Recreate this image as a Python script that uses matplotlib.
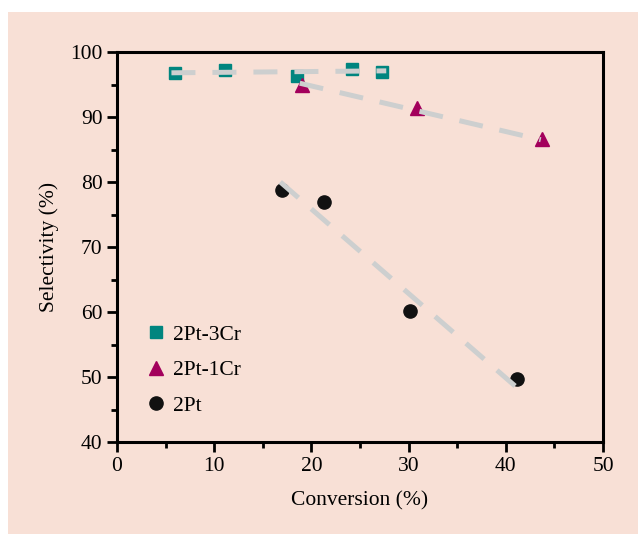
import numpy as np
import matplotlib
matplotlib.use("Agg")
from matplotlib import pyplot as plt
from matplotlib.patches import Rectangle
from matplotlib.ticker import MultipleLocator

# Data
conv_3cr = [6.0, 11.1, 18.5, 24.2, 27.3]
sel_3cr = [96.7, 97.2, 96.3, 97.4, 97.0]
conv_1cr = [19.0, 30.9, 43.7]
sel_1cr = [95.0, 91.4, 86.6]
conv_pt = [17.0, 21.3, 30.1, 41.2]
sel_pt = [78.7, 76.9, 60.1, 49.7]

# gray dashed trend lines (end points)
trend_3cr_x = [5.6, 27.7]
trend_3cr_y = [96.8, 97.1]
trend_1cr_x = [18.8, 43.6]
trend_1cr_y = [95.2, 86.5]
trend_pt_x = [16.8, 41.2]
trend_pt_y = [80.0, 48.3]

PEACH = "#f8e0d6"
TEAL = "#00857f"
MAGENTA = "#a3005c"
GRAY = "#cdcfcf"

plt.rcParams['font.family'] = ['Liberation Serif', 'DejaVu Serif']

fig = plt.figure(figsize=(6.38, 5.34), dpi=100, facecolor="white")
# peach panel behind everything
bg = Rectangle((8 / 638, 0), 1, 1 - 12 / 534, transform=fig.transFigure,
               facecolor=PEACH, edgecolor="none", zorder=-10)
fig.add_artist(bg)
ax = fig.add_axes([117 / 638, 1 - 442 / 534, 486 / 638, 390 / 534])
ax.set_facecolor(PEACH)

dash = dict(color=GRAY, lw=3.6, dashes=(4.8, 3.4), solid_capstyle="butt", zorder=3)
ax.plot(trend_3cr_x, trend_3cr_y, **dash)
ax.plot(trend_1cr_x, trend_1cr_y, **dash)
ax.plot(trend_pt_x, trend_pt_y, **dash)

ax.plot(conv_3cr, sel_3cr, "s", color=TEAL, ms=8.5, ls="none", zorder=2, label="2Pt-3Cr")
ax.plot(conv_1cr, sel_1cr, "^", color=MAGENTA, ms=10.5, ls="none", zorder=2, label="2Pt-1Cr")
ax.plot(conv_pt, sel_pt, "o", color="#111111", ms=9.5, ls="none", zorder=2, label="2Pt")

ax.set_xlim(0, 50)
ax.set_ylim(40, 100)
ax.xaxis.set_major_locator(MultipleLocator(10))
ax.xaxis.set_minor_locator(MultipleLocator(5))
ax.yaxis.set_major_locator(MultipleLocator(10))
ax.yaxis.set_minor_locator(MultipleLocator(5))
ax.tick_params(which="both", direction="out", width=2, labelsize=15.5, colors="black")
ax.tick_params(which="major", length=7)
ax.tick_params(which="minor", length=4)
for s in ax.spines.values():
    s.set_linewidth(2.2)

ax.set_xlabel("Conversion (%)", fontsize=15.5, labelpad=11)
ax.set_ylabel("Selectivity (%)", fontsize=15.5, labelpad=8)

leg = ax.legend(loc="lower left", bbox_to_anchor=(0.022, 0.017), frameon=False,
                fontsize=15.5, handlelength=0.8, handletextpad=0.4, labelspacing=0.72)

fig.savefig("out.png", dpi=100, facecolor="white")
